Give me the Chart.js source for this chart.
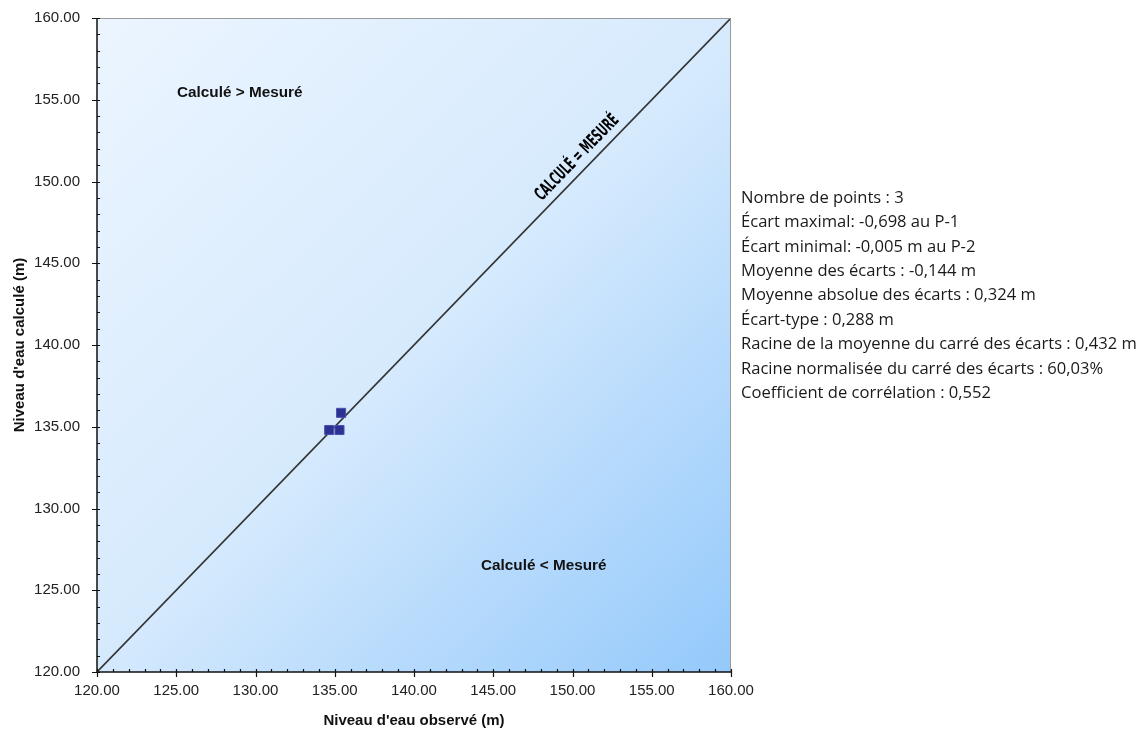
<!DOCTYPE html>
<html>
<head>
    <meta charset="utf-8">
    <title>Niveaux calculés vs observés</title>
    <script src="https://cdn.jsdelivr.net/npm/chart.js"></script>
    <style>
        * {
            box-sizing: border-box;
            margin: 0;
            padding: 0;
        }

        body {
            background: #ffffff;
            width: 1143px;
            height: 733px;
            overflow: hidden;
        }

        #chart {
            display: block;
        }
    </style>
</head>
<body>
    <canvas id="chart" width="1143" height="733"></canvas>

    <script>
        // Data
        const pointNames = ['P-1', 'P-2', 'P-3'];
        const observed = [134.65, 135.30, 135.40];
        const calculated = [134.80, 134.80, 135.85];

        const axisMin = 120;
        const axisMax = 160;
        const majorStep = 5;
        const minorStep = 1;

        const identityX = [120, 160];
        const identityY = [120, 160];

        const regionTexts = ['Calculé > Mesuré', 'Calculé < Mesuré'];
        const regionX = [125.05, 144.23];
        const regionY = [155.41, 126.48];

        const diagonalText = 'CALCULÉ = MESURÉ';
        const diagonalAt = 150.9;

        const statsLines = [
            'Nombre de points : 3',
            'Écart maximal: -0,698 au P-1',
            'Écart minimal: -0,005 m au P-2',
            'Moyenne des écarts : -0,144 m',
            'Moyenne absolue des écarts : 0,324 m',
            'Écart-type : 0,288 m',
            'Racine de la moyenne du carré des écarts : 0,432 m',
            'Racine normalisée du carré des écarts : 60,03%',
            'Coefficient de corrélation : 0,552'
        ];

        const pointData = observed.map((x, i) => ({ x: x, y: calculated[i], name: pointNames[i] }));
        const lineData = identityX.map((x, i) => ({ x: x, y: identityY[i] }));

        // background gradient of the plot area
        const backgroundPlugin = {
            id: 'plotBackground',
            beforeDatasetsDraw(chart) {
                const { ctx, chartArea: a } = chart;
                const g = ctx.createLinearGradient(a.left, a.top, a.right, a.bottom);
                g.addColorStop(0, '#ecf5ff');
                g.addColorStop(0.5, '#d6eafd');
                g.addColorStop(1, '#94c9fb');
                ctx.save();
                ctx.fillStyle = g;
                ctx.fillRect(a.left, a.top, a.right - a.left, a.bottom - a.top);
                ctx.restore();
            }
        };

        // frame, ticks and texts
        const decorPlugin = {
            id: 'decor',
            afterDraw(chart) {
                const { ctx, chartArea: a } = chart;
                const xs = chart.scales.x;
                const ys = chart.scales.y;
                ctx.save();

                // top/right frame
                ctx.strokeStyle = '#9a9a9a';
                ctx.lineWidth = 1;
                ctx.beginPath();
                ctx.moveTo(a.left, a.top + 0.5);
                ctx.lineTo(a.right - 0.5, a.top + 0.5);
                ctx.lineTo(a.right - 0.5, a.bottom);
                ctx.stroke();

                // axis lines
                ctx.strokeStyle = '#111';
                ctx.lineWidth = 1.5;
                ctx.beginPath();
                ctx.moveTo(a.left, a.top);
                ctx.lineTo(a.left, a.bottom);
                ctx.lineTo(a.right, a.bottom);
                ctx.stroke();

                // ticks
                ctx.lineWidth = 1.2;
                ctx.beginPath();
                for (let v = axisMin; v <= axisMax; v += minorStep) {
                    const major = (v - axisMin) % majorStep === 0;
                    const px = Math.round(xs.getPixelForValue(v)) + 0.5;
                    const py = Math.round(ys.getPixelForValue(v)) + 0.5;
                    if (major) {
                        ctx.moveTo(px, a.bottom - 3);
                        ctx.lineTo(px, a.bottom + 5);
                        ctx.moveTo(a.left - 5, py);
                        ctx.lineTo(a.left + 3, py);
                    } else {
                        ctx.moveTo(px, a.bottom - 3);
                        ctx.lineTo(px, a.bottom);
                        ctx.moveTo(a.left, py);
                        ctx.lineTo(a.left + 3, py);
                    }
                }
                ctx.stroke();

                // region labels
                ctx.fillStyle = '#111';
                ctx.font = 'bold 15.3px "Liberation Sans", Arial, sans-serif';
                ctx.textBaseline = 'middle';
                ctx.textAlign = 'left';
                regionTexts.forEach((t, i) => {
                    ctx.fillText(t, xs.getPixelForValue(regionX[i]), ys.getPixelForValue(regionY[i]));
                });

                // label along the 1:1 line
                const x0 = xs.getPixelForValue(identityX[0]), y0 = ys.getPixelForValue(identityY[0]);
                const x1 = xs.getPixelForValue(identityX[1]), y1 = ys.getPixelForValue(identityY[1]);
                const angle = Math.atan2(y1 - y0, x1 - x0);
                ctx.save();
                ctx.translate(xs.getPixelForValue(diagonalAt), ys.getPixelForValue(diagonalAt));
                ctx.rotate(angle);
                ctx.font = 'bold 18px "DejaVu Sans Condensed", "DejaVu Sans", sans-serif';
                const w = ctx.measureText(diagonalText).width;
                ctx.scale(112 / w, 1);
                ctx.textAlign = 'center';
                ctx.textBaseline = 'middle';
                ctx.fillStyle = '#000';
                ctx.fillText(diagonalText, 0, -13);
                ctx.restore();

                // statistics block
                ctx.fillStyle = '#1a1a1a';
                let size = 15;
                ctx.font = size + 'px "Open Sans", "Noto Sans", sans-serif';
                const longest = ctx.measureText(statsLines[6]).width;
                size = size * 396 / longest;
                ctx.font = size.toFixed(2) + 'px "Open Sans", "Noto Sans", sans-serif';
                ctx.textAlign = 'left';
                ctx.textBaseline = 'middle';
                statsLines.forEach((t, i) => {
                    ctx.fillText(t, 741, 198 + i * 24.4);
                });

                ctx.restore();
            }
        };

        const tickFont = { family: '"Liberation Sans", Arial, sans-serif', size: 15 };
        const titleFont = { family: '"Liberation Sans", Arial, sans-serif', size: 15, weight: 'bold' };

        new Chart(document.getElementById('chart'), {
            type: 'scatter',
            data: {
                datasets: [
                    {
                        label: 'Calculé = Mesuré',
                        data: lineData,
                        showLine: true,
                        borderColor: '#333333',
                        borderWidth: 1.6,
                        pointRadius: 0,
                        order: 2
                    },
                    {
                        label: 'Points',
                        data: pointData,
                        pointStyle: 'rect',
                        pointRadius: 6.4,
                        backgroundColor: '#2d3192',
                        borderColor: '#4a4fb0',
                        borderWidth: 1,
                        order: 1
                    }
                ]
            },
            options: {
                responsive: false,
                animation: false,
                layout: {
                    padding: { top: 18, right: 412, left: 0, bottom: 0 }
                },
                plugins: {
                    legend: { display: false },
                    tooltip: { enabled: false }
                },
                scales: {
                    x: {
                        type: 'linear',
                        min: axisMin,
                        max: axisMax,
                        afterFit: s => { s.height = 61; },
                        grid: { display: false, drawTicks: false },
                        border: { display: false },
                        ticks: {
                            stepSize: majorStep,
                            padding: 10,
                            color: '#222',
                            font: tickFont,
                            callback: v => v.toFixed(2)
                        },
                        title: {
                            display: true,
                            text: "Niveau d'eau observé (m)",
                            color: '#111',
                            font: titleFont,
                            padding: { top: 0, bottom: 3 }
                        }
                    },
                    y: {
                        type: 'linear',
                        min: axisMin,
                        max: axisMax,
                        afterFit: s => {
                            s.width = 97;
                            s.paddingTop = 9;
                            s.paddingBottom = 9;
                        },
                        grid: { display: false, drawTicks: false },
                        border: { display: false },
                        ticks: {
                            stepSize: majorStep,
                            padding: 17,
                            color: '#222',
                            font: tickFont,
                            callback: v => v.toFixed(2)
                        },
                        title: {
                            display: true,
                            text: "Niveau d'eau calculé (m)",
                            color: '#111',
                            font: titleFont,
                            padding: { top: 11, bottom: 0 }
                        }
                    }
                }
            },
            plugins: [backgroundPlugin, decorPlugin]
        });
    </script>
</body>
</html>
